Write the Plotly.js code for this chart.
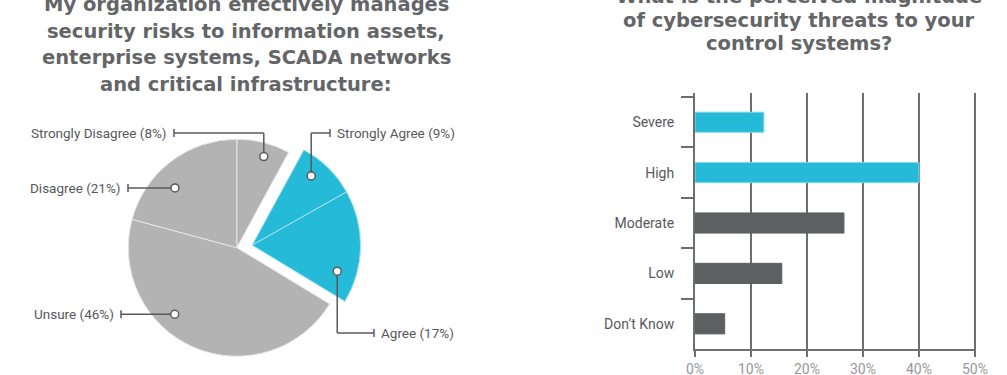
<!DOCTYPE html>
<html>
<head>
<meta charset="utf-8">
<script src="https://cdn.plot.ly/plotly-3.0.1.min.js"></script>
<style>
  html, body { margin: 0; padding: 0; background: #ffffff; }
  #chart { width: 1007px; height: 375px; }
</style>
</head>
<body>
<div id="chart"></div>
<script>
// ---------- DATA ----------
// Pie: slices listed clockwise from 12 o'clock
const pieLabels = ["Strongly Disagree", "Strongly Agree", "Agree", "Unsure", "Disagree"];
const pieValues = [8, 9, 17, 46, 21];
const pieHighlighted = [false, true, true, false, false];

// Bar chart
const barCategories = ["Severe", "High", "Moderate", "Low", "Don\u2019t Know"];
const barValues = [12.3, 40, 26.6, 15.5, 5.3];
const barHighlighted = [true, true, false, false, false];
const xTickValues = [0, 10, 20, 30, 40, 50];
const xTickLabels = ["0%", "10%", "20%", "30%", "40%", "50%"];

const leftTitle = ["My organization effectively manages", "security risks to information assets,",
                   "enterprise systems, SCADA networks", "and critical infrastructure:"];
const rightTitle = ["What is the perceived magnitude", "of cybersecurity threats to your", "control systems?"];

// ---------- STYLE / LAYOUT ----------
const W = 1007, H = 375;
const CYAN = "#25bad7", CYAN_EDGE = "#86d8ea", GRAY = "#b3b3b3", DARK = "#5e5f61";
const INK = "#58595b", TITLE = "#646567";
const LABEL_FONT = "Roboto, 'Liberation Sans', sans-serif";
const TITLE_FONT = "'DejaVu Sans', 'Open Sans', sans-serif";

const pxX = x => x / W;
const pxY = y => 1 - y / H;

// pie geometry (pixels)
const pie = { cx: 236.8, cy: 247.7, r: 108.5 };
const pullShift = { dx: 15.3, dy: -2.5 };   // offset of the exploded (highlighted) group

function pieDomain(cx, cy, r) {
  return { x: [pxX(cx - r), pxX(cx + r)], y: [pxY(cy + r), pxY(cy - r)] };
}

const pieBase = {
  type: "pie", values: pieValues, labels: pieLabels, sort: false,
  direction: "clockwise", rotation: 0, textinfo: "none", hoverinfo: "skip",
  showlegend: false
};

const pieGray = Object.assign({}, pieBase, {
  domain: pieDomain(pie.cx, pie.cy, pie.r),
  marker: {
    colors: pieHighlighted.map(h => h ? "rgba(0,0,0,0)" : GRAY),
    line: { color: pieHighlighted.map(h => "#e6e6e6"), width: pieHighlighted.map(h => h ? 0 : 1) }
  }
});
const pieCyan = Object.assign({}, pieBase, {
  domain: pieDomain(pie.cx + pullShift.dx, pie.cy + pullShift.dy, pie.r),
  marker: {
    colors: pieHighlighted.map(h => h ? CYAN : "rgba(0,0,0,0)"),
    line: { color: pieHighlighted.map(h => "#a6e2ef"), width: pieHighlighted.map(h => h ? 1 : 0) }
  }
});

const bars = {
  type: "bar", orientation: "h", x: barValues, y: barCategories,
  width: 0.4, hoverinfo: "skip", showlegend: false,
  xaxis: "x", yaxis: "y",
  marker: {
    color: barHighlighted.map(h => h ? CYAN : DARK),
    line: { color: barHighlighted.map(h => h ? CYAN_EDGE : DARK), width: 1 }
  }
};

// leader lines (annotation geometry, pixels)
// anchor: polar position (deg clockwise from 12 o'clock, radius px) from the slice group's centre
const leaders = [
  { i: 0, ang: 16.5, rad: 95, elbowY: 133, barX: 174, side: "left" },
  { i: 1, ang: 40.5, rad: 91, elbowY: 133, barX: 330, side: "right" },
  { i: 2, ang: 107,  rad: 89, elbowY: 333, barX: 374, side: "right" },
  { i: 3, ang: 223,  rad: 91, elbowY: null, barX: 121, side: "left" },
  { i: 4, ang: 314,  rad: 86, elbowY: null, barX: 128, side: "left" }
];

const shapes = [];
const annotations = [];
leaders.forEach(L => {
  const cx = pie.cx + (pieHighlighted[L.i] ? pullShift.dx : 0);
  const cy = pie.cy + (pieHighlighted[L.i] ? pullShift.dy : 0);
  const a = L.ang * Math.PI / 180;
  const dx = cx + L.rad * Math.sin(a), dy = cy - L.rad * Math.cos(a);
  const ly = L.elbowY === null ? dy : L.elbowY;
  const line = { type: "line", xref: "paper", yref: "paper", line: { color: INK, width: 1.5 } };
  if (L.elbowY !== null) {
    shapes.push(Object.assign({}, line, { x0: pxX(dx), y0: pxY(dy), x1: pxX(dx), y1: pxY(ly) }));
  }
  shapes.push(Object.assign({}, line, { x0: pxX(dx), y0: pxY(ly), x1: pxX(L.barX), y1: pxY(ly) }));
  shapes.push(Object.assign({}, line, { x0: pxX(L.barX), y0: pxY(ly - 4), x1: pxX(L.barX), y1: pxY(ly + 4) }));
  shapes.push({ type: "circle", xref: "paper", yref: "paper",
    x0: pxX(dx - 4), x1: pxX(dx + 4), y0: pxY(dy + 4), y1: pxY(dy - 4),
    fillcolor: "#ffffff", line: { color: INK, width: 1.5 } });
  const gap = 5;
  annotations.push({
    xref: "paper", yref: "paper", showarrow: false,
    x: pxX(L.side === "left" ? L.barX - gap : L.barX + gap), y: pxY(ly),
    xanchor: L.side === "left" ? "right" : "left", yanchor: "middle",
    text: pieLabels[L.i] + " (" + pieValues[L.i] + "%)",
    font: { family: LABEL_FONT, size: 13.5, color: INK }
  });
});

// titles: one annotation per line
function addTitle(lines, cx, firstY, step) {
  lines.forEach((t, k) => annotations.push({
    xref: "paper", yref: "paper", showarrow: false, x: pxX(cx), y: pxY(firstY + k * step),
    xanchor: "center", yanchor: "middle", text: t,
    font: { family: TITLE_FONT, size: 19.5, color: TITLE, weight: 700 }
  }));
}
addTitle(leftTitle, 246, 4.5, 26.7);
addTitle(rightTitle, 799, -3.5, 23.5);

const AX = "#6d6e70";
const layout = {
  width: W, height: H,
  margin: { l: 0, r: 0, t: 0, b: 0, pad: 0 },
  paper_bgcolor: "#ffffff", plot_bgcolor: "rgba(0,0,0,0)",
  bargap: 0.6,
  xaxis: {
    domain: [pxX(695), pxX(976)], range: [0, 50.18],
    tickmode: "array", tickvals: xTickValues, ticktext: xTickLabels,
    showgrid: true, gridcolor: AX, gridwidth: 2,
    showline: true, linecolor: AX, linewidth: 2, zeroline: false,
    ticks: "outside", ticklen: 6, tickwidth: 2, tickcolor: AX,
    tickfont: { family: LABEL_FONT, size: 14, color: "#97989a" }, fixedrange: true
  },
  yaxis: {
    domain: [pxY(349), pxY(93)], range: [4.5, -0.58], type: "category",
    tickson: "boundaries", ticks: "outside", ticklen: 12, tickwidth: 2, tickcolor: AX,
    showline: true, linecolor: AX, linewidth: 2, showgrid: false, zeroline: false,
    ticklabelstandoff: 16,
    tickfont: { family: LABEL_FONT, size: 14, color: INK }, fixedrange: true
  },
  shapes: shapes,
  annotations: annotations
};

Plotly.newPlot("chart", [pieGray, pieCyan, bars], layout, { displayModeBar: false, staticPlot: true });
</script>
</body>
</html>
